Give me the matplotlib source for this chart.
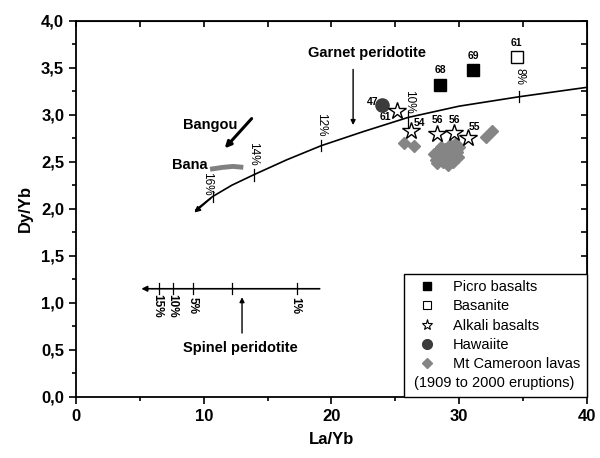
import matplotlib
matplotlib.use("Agg")
import matplotlib.pyplot as plt
from matplotlib.lines import Line2D
from matplotlib.ticker import MultipleLocator, FuncFormatter

plt.rcParams['font.family'] = ['Liberation Sans', 'DejaVu Sans']

# --- data ---
picro_x = [28.5, 31.1]
picro_y = [3.32, 3.47]
picro_lab = ['68', '69']

basanite_x = [34.5]
basanite_y = [3.61]
basanite_lab = ['61']

alkali_x = [25.1, 26.2, 28.3, 29.6, 30.7]
alkali_y = [3.04, 2.83, 2.79, 2.81, 2.75]
alkali_lab = ['61', '54', '56', '56', '55']

hawaiite_x = [24.0]
hawaiite_y = [3.10]
hawaiite_lab = ['47']

cameroon_x = [25.7, 26.5, 32.1, 32.6,
              28.0, 28.2, 28.4, 28.5, 28.7, 28.8, 28.9, 29.0, 29.1, 29.2,
              29.3, 29.4, 29.5, 29.6, 29.7, 29.8, 29.9, 30.0, 29.2, 28.6, 28.3]
cameroon_y = [2.70, 2.67, 2.76, 2.83,
              2.58, 2.52, 2.62, 2.55, 2.50, 2.60, 2.64, 2.54, 2.47, 2.62,
              2.68, 2.57, 2.50, 2.64, 2.69, 2.60, 2.55, 2.66, 2.56, 2.66, 2.49]

# garnet peridotite melting curve
curve_x = [9.4, 10.7, 12.2, 13.9, 16.5, 19.2, 22.5, 26.0, 30.0, 34.7, 40.0]
curve_y = [1.99, 2.13, 2.25, 2.36, 2.52, 2.67, 2.82, 2.97, 3.09, 3.19, 3.29]
curve_tick_x = [10.7, 13.9, 19.2, 26.0, 34.7]
curve_tick_y = [2.13, 2.36, 2.67, 2.97, 3.19]
curve_tick_lab = ['16%', '14%', '12%', '10%', '8%']

# spinel peridotite melting line
spinel_x = [4.9, 19.3]
spinel_y = 1.15
spinel_tick_x = [6.5, 7.6, 9.2, 12.2, 17.3]
spinel_tick_lab = ['15%', '10%', '5%', '', '1%']

# Bana trend
bana_x = [13.1, 12.3, 11.5, 10.5]
bana_y = [2.44, 2.45, 2.44, 2.42]

fig = plt.figure(figsize=(6.0, 4.58), dpi=100)
ax = fig.add_axes([0.1267, 0.1332, 0.8513, 0.822])

# curve
ax.plot(curve_x, curve_y, color='k', lw=1.2, zorder=2)
ax.annotate('', xy=(curve_x[0] - 0.3, curve_y[0] - 0.05), xytext=(curve_x[1], curve_y[1]),
            arrowprops=dict(arrowstyle='-|>', color='k', lw=1.2, mutation_scale=8))
for tx, ty, tl in zip(curve_tick_x, curve_tick_y, curve_tick_lab):
    if tl == '10%':
        ax.plot([tx, tx], [ty - 0.13, ty + 0.07], color='k', lw=0.9)
        ax.text(tx + 0.1, ty + 0.17, tl, rotation=270, ha='center', va='center', fontsize=8.5)
    elif tl == '16%':
        ax.plot([tx, tx], [ty - 0.06, ty + 0.06], color='k', lw=0.9)
        ax.text(tx - 0.4, ty + 0.13, tl, rotation=270, ha='center', va='center', fontsize=8.5)
    else:
        ax.plot([tx, tx], [ty - 0.06, ty + 0.06], color='k', lw=0.9)
        ax.text(tx, ty + 0.22, tl, rotation=270, ha='center', va='center', fontsize=8.5)

# spinel line
ax.annotate('', xy=(spinel_x[0], spinel_y), xytext=(spinel_x[1], spinel_y),
            arrowprops=dict(arrowstyle='-|>', color='k', lw=1.2, mutation_scale=8))
for tx, tl in zip(spinel_tick_x, spinel_tick_lab):
    ax.plot([tx, tx], [spinel_y - 0.06, spinel_y + 0.06], color='k', lw=0.9)
    if tl:
        ax.text(tx - 0.1, spinel_y - 0.18, tl, rotation=270, ha='center', va='center',
                fontsize=8.5, fontweight='bold')
ax.annotate('', xy=(13.0, 1.09), xytext=(13.0, 0.65),
            arrowprops=dict(arrowstyle='-|>', color='k', lw=1.0, mutation_scale=7))
ax.text(12.9, 0.52, 'Spinel peridotite', ha='center', va='center', fontsize=10.5,
        fontweight='bold')

# garnet label
ax.annotate('', xy=(21.7, 2.86), xytext=(21.7, 3.51),
            arrowprops=dict(arrowstyle='-|>', color='k', lw=1.0, mutation_scale=7))
ax.text(22.8, 3.65, 'Garnet peridotite', ha='center', va='center', fontsize=10.5,
        fontweight='bold')

# Bangou / Bana
ax.annotate('', xy=(11.5, 2.62), xytext=(13.9, 2.98),
            arrowprops=dict(arrowstyle='-|>', color='k', lw=2.2, mutation_scale=9))
ax.text(10.5, 2.89, 'Bangou', ha='center', va='center', fontsize=10.5, fontweight='bold')
ax.plot(bana_x, bana_y, color='#808080', lw=3.5, solid_capstyle='butt')
ax.text(8.9, 2.46, 'Bana', ha='center', va='center', fontsize=10.5, fontweight='bold')

# samples
ax.plot(cameroon_x, cameroon_y, 'D', color='#858585', ms=6.5, mec='#858585', zorder=3)
ax.plot(picro_x, picro_y, 's', color='k', ms=8, zorder=4)
ax.plot(basanite_x, basanite_y, 's', mfc='white', mec='k', ms=8, mew=1, zorder=4)
ax.plot(hawaiite_x, hawaiite_y, 'o', color='#3c3c3c', ms=9.5, zorder=4)
ax.plot(alkali_x, alkali_y, '*', mfc='white', mec='k', ms=13, mew=1, zorder=5)

lab_fs = 7.5
for x, y, t in zip(picro_x, picro_y, picro_lab):
    ax.text(x, y + 0.15, t, ha='center', va='center', fontsize=lab_fs, fontweight='bold')
for x, y, t in zip(basanite_x, basanite_y, basanite_lab):
    ax.text(x, y + 0.15, t, ha='center', va='center', fontsize=lab_fs, fontweight='bold')
ax.text(hawaiite_x[0] - 0.8, hawaiite_y[0] + 0.03, hawaiite_lab[0], ha='center', va='center',
        fontsize=lab_fs, fontweight='bold')
alk_off = [(-0.9, -0.07), (0.7, 0.08), (0.0, 0.15), (0.0, 0.13), (0.5, 0.12)]
for (x, y, t), (dx, dy) in zip(zip(alkali_x, alkali_y, alkali_lab), alk_off):
    ax.text(x + dx, y + dy, t, ha='center', va='center', fontsize=lab_fs, fontweight='bold')

# axes
ax.set_xlim(0, 40)
ax.set_ylim(0, 4.0)
ax.xaxis.set_major_locator(MultipleLocator(10))
ax.xaxis.set_minor_locator(MultipleLocator(5))
ax.yaxis.set_major_locator(MultipleLocator(0.5))
ax.yaxis.set_minor_locator(MultipleLocator(0.25))
ax.yaxis.set_major_formatter(FuncFormatter(lambda v, p: f'{v:.1f}'.replace('.', ',')))
ax.tick_params(which='both', direction='out', top=False, right=False, width=1.2)
ax.tick_params(which='major', length=5, labelsize=12)
ax.tick_params(which='minor', length=3)
for lbl in ax.get_xticklabels() + ax.get_yticklabels():
    lbl.set_fontweight('bold')
for s in ax.spines.values():
    s.set_linewidth(1.3)

# inward ticks on top and right
axt = ax.secondary_xaxis('top')
axt.xaxis.set_major_locator(MultipleLocator(5))
axt.tick_params(direction='in', length=4, width=1.2, labeltop=False)
axr = ax.secondary_yaxis('right')
axr.yaxis.set_major_locator(MultipleLocator(0.25))
axr.tick_params(direction='in', length=4, width=1.2, labelright=False)

ax.set_xlabel('La/Yb', fontsize=12, fontweight='bold', labelpad=6)
ax.set_ylabel('Dy/Yb', fontsize=12, fontweight='bold', labelpad=6)

handles = [
    Line2D([], [], ls='', marker='s', color='k', ms=6),
    Line2D([], [], ls='', marker='s', mfc='white', mec='k', ms=6, mew=0.8),
    Line2D([], [], ls='', marker='*', mfc='white', mec='k', ms=8, mew=0.8),
    Line2D([], [], ls='', marker='o', color='#3c3c3c', ms=7),
    Line2D([], [], ls='', marker='D', color='#858585', ms=5.5),
    Line2D([], [], ls='', marker=''),
]
labels = ['Picro basalts', 'Basanite', 'Alkali basalts', 'Hawaiite', 'Mt Cameroon lavas', ' ']
leg = ax.legend(handles, labels, loc='lower right', bbox_to_anchor=(1.0, 0.0),
                borderaxespad=0, fontsize=10.5, frameon=True, fancybox=False,
                edgecolor='k', framealpha=1, handlelength=2.3, handletextpad=0.6,
                labelspacing=0.36, borderpad=0.45)
leg.get_frame().set_linewidth(1.0)

# continuation line of the last legend entry, placed on the empty sixth row
fig.canvas.draw()
inv = ax.transAxes.inverted()
row_bb = leg.get_texts()[5].get_window_extent()
frame_bb = leg.get_frame().get_window_extent()
tx, ty = inv.transform((frame_bb.x0 + 10, (row_bb.y0 + row_bb.y1) / 2))
ax.text(tx, ty, '(1909 to 2000 eruptions)', transform=ax.transAxes, ha='left',
        va='center', fontsize=10.5, zorder=10)

fig.savefig('out.png', dpi=100)
